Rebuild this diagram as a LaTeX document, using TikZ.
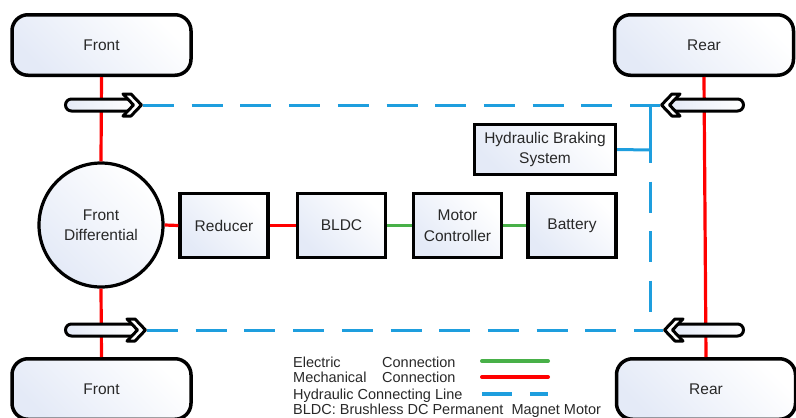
\documentclass[tikz,border=0pt]{standalone}
\usepackage{fontspec}
\setmainfont{Liberation Sans}
\definecolor{mechred}{RGB}{255,0,0}
\definecolor{elecgreen}{RGB}{72,176,72}
\definecolor{hydblue}{RGB}{30,158,222}
\definecolor{bluefill}{RGB}{228,234,247}
\definecolor{txtgray}{RGB}{40,40,40}
\tikzset{
  boxfill/.style={left color=bluefill, right color=white, shading angle=135},
  pics/brakearrow/.style={code={
    \shade[left color=bluefill, right color=white] (-9,-6) [rounded corners=6pt] -- (-#1+1.5,-6) -- (-#1+1.5,6) [sharp corners] -- (-9,6) -- cycle;
    \draw[line width=3pt] (-9,-6) [rounded corners=6pt] -- (-#1+1.5,-6) -- (-#1+1.5,6) [sharp corners] -- (-9,6);
    \draw[line width=3pt, fill=white, line join=round] (-1.5,0) -- (-12,-11) -- (-20,-11) -- (-9.5,0) -- (-20,11) -- (-12,11) -- cycle;
    \coordinate (-tip) at (0,0);
  }}
}
\begin{document}
\begin{tikzpicture}[x=1pt,y=-1pt,
  txt/.style={text=txtgray, font=\fontsize{15.5}{20.5}\selectfont, align=center},
  blk/.style={draw=black, line width=3.2pt, boxfill, txt, minimum width=88pt, minimum height=63.5pt, inner sep=0pt},
  wheel/.style={draw=black, line width=3.5pt, rounded corners=16pt, boxfill, txt, minimum width=179pt, minimum height=60.5pt},
  mech/.style={draw=mechred, line width=3.2pt},
  elec/.style={draw=elecgreen, line width=3.6pt},
  hydsolid/.style={draw=hydblue, line width=3pt},
  hyd/.style={hydsolid, dash pattern=on 31pt off 17.7pt},
  legtxt/.style={anchor=base west, text=txtgray, font=\fontsize{14.5}{17}\selectfont, inner sep=0pt}
]
\useasboundingbox (0,0) rectangle (796,418);

% wheels
\node[wheel] (ftw) at (101.5,45) {Front};
\node[wheel] (rtw) at (704,45) {Rear};
\node[wheel] (fbw) at (101.5,389) {Front};
\node[wheel] (rbw) at (706,389) {Rear};

% drivetrain
\node[circle, draw=black, line width=3.2pt, minimum size=124pt, inner sep=0pt, boxfill, txt] (fd) at (101,225) {Front\\Differential};
\node[blk] (red) at (224,225.5) {Reducer};
\node[blk] (bldc) at (341.5,225.5) {BLDC};
\node[blk] (mc) at (457.5,225.5) {Motor\\Controller};
\node[blk] (bat) at (572,225.5) {Battery};
\node[blk, minimum width=141pt, minimum height=50pt] (hbs) at (545,149.5) {Hydraulic Braking\\System};

% mechanical links
\draw[mech] (ftw.south) -- (fd.north);
\draw[mech] (fd.south) -- (fbw.north);
\draw[mech] (rtw.south) -- (rbw.north);
\draw[mech] (fd.east) -- (red.west);
\draw[mech] (red.east) -- (bldc.west);
% electric links
\draw[elec] (bldc.east) -- (mc.west);
\draw[elec] (mc.east) -- (bat.west);

% brake actuators
\pic (fa) at (143,105) {brakearrow=79};
\pic (fb) at (147,330) {brakearrow=83};
\pic[xscale=-1] (ra) at (660,105) {brakearrow=85};
\pic[xscale=-1] (rb) at (663,330) {brakearrow=82};

% hydraulic lines
\coordinate (jt) at (650,105);
\coordinate (jh) at (650,150);
\coordinate (jm) at (650,163);
\coordinate (jb) at (650,330);
\draw[hyd] (fa-tip) -- (ra-tip);
\draw[hyd] (fb-tip) -- (rb-tip);
\draw[hydsolid] (jt) -- (jm);
\draw[hydsolid] (hbs.east) -- (jh);
\draw[hydsolid, dash pattern=on 31pt off 18.5pt, dash phase=31pt] (jm) -- (jb);

% legend
\node[legtxt] (l1a) at (293,367) {Electric};
\node[legtxt] (l1b) at (382,367) {Connection};
\node[legtxt] (l2a) at (293,382.5) {Mechanical};
\node[legtxt] (l2b) at (382,382.5) {Connection};
\node[legtxt] (l3) at (293,399) {Hydraulic Connecting Line};
\node[legtxt] (l4) at (293,414.5) {BLDC: Brushless DC Permanent~ Magnet Motor};
\coordinate (g1) at (482,361);
\coordinate (g2) at (548,361);
\coordinate (r1) at (482,377);
\coordinate (r2) at (548,377);
\coordinate (b1) at (482,394);
\coordinate (b2) at (548,394);
\draw[elec, line width=4pt, line cap=round] (g1) -- (g2);
\draw[mech, line width=4pt, line cap=round] (r1) -- (r2);
\draw[hydsolid, line width=4pt, dash pattern=on 30pt off 18pt] (b1) -- (b2);
\end{tikzpicture}
\end{document}
